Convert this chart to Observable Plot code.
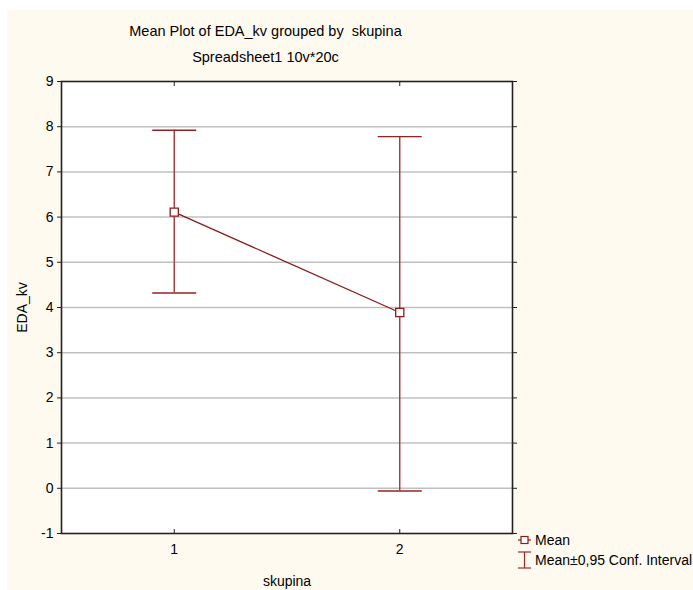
<!DOCTYPE html>
<html><head><meta charset="utf-8">
<script src="https://cdn.jsdelivr.net/npm/d3@7"></script>
<script src="https://cdn.jsdelivr.net/npm/@observablehq/plot@0.6"></script>
<style>
body{margin:0;background:#fff;}
#wrap{position:absolute;left:7px;top:10px;width:686px;height:580px;background:#fffaf0;font-family:"Liberation Sans",Arial,sans-serif;color:#000;overflow:hidden;}
.t{position:absolute;left:0;width:517px;text-align:center;font-size:14.5px;line-height:17px;}
.leg{position:absolute;left:528px;font-size:14px;line-height:16px;white-space:nowrap;}
.ico{position:absolute;left:511px;}
#chart{position:absolute;left:0;top:0;}
#chart svg text{font-size:14px;font-family:"Liberation Sans",Arial,sans-serif;}
</style></head><body>
<div id="wrap">
  <div class="t" style="top:13px">Mean Plot of EDA_kv grouped by&nbsp; skupina</div>
  <div class="t" style="top:39px">Spreadsheet1 10v*20c</div>
  <div id="chart"></div>
  <svg class="ico" style="top:523px" width="13" height="14"><line x1="0" y1="7" x2="13" y2="7" stroke="#8b1c1c" stroke-width="1.2"/><rect x="3" y="3.5" width="7" height="7" fill="#fff" stroke="#8b1c1c" stroke-width="1.2"/></svg>
  <div class="leg" style="top:522px">Mean</div>
  <svg class="ico" style="top:541px" width="13" height="18"><line x1="0" y1="1" x2="13" y2="1" stroke="#9c2a2a" stroke-width="1.2"/><line x1="6.5" y1="1" x2="6.5" y2="17" stroke="#9c2a2a" stroke-width="1.2"/><line x1="0" y1="17" x2="13" y2="17" stroke="#9c2a2a" stroke-width="1.2"/></svg>
  <div class="leg" style="top:542px">Mean±0,95 Conf. Interval</div>
</div>
<script>
const groups = [1, 2];
const means = [6.11, 3.89];
const upper = [7.92, 7.78];
const lower = [4.32, -0.06];
const yTicks = [-1, 0, 1, 2, 3, 4, 5, 6, 7, 8, 9];
const gridLines = [0, 1, 2, 3, 4, 5, 6, 7, 8];
const xTicks = [1, 2];

const data = groups.map((g, i) => ({g, mean: means[i], hi: upper[i], lo: lower[i]}));

const capSymbol = {draw(ctx) { ctx.moveTo(-22, 0); ctx.lineTo(22, 0); }};
const ciColor = "#a33636";
const capColor = "#952222";
const lineColor = "#8b1c1c";
const fmt = d => String(d);

const chart = Plot.plot({
  width: 686, height: 580,
  marginLeft: 54, marginRight: 181, marginTop: 71, marginBottom: 57,
  style: {background: "transparent", fontFamily: "'Liberation Sans', Arial, sans-serif", fontSize: "14px", color: "#000"},
  x: {domain: [0.5, 2.5], ticks: xTicks},
  y: {domain: [-1, 9], ticks: yTicks},
  marks: [
    Plot.frame({fill: "white", stroke: null}),
    Plot.ruleY(gridLines, {stroke: "#c0c0c0", strokeWidth: 1.5}),
    Plot.axisY({ticks: yTicks, tickSize: 4, tickPadding: 4, tickFormat: fmt, stroke: "#222", label: "EDA_kv", labelAnchor: "center", labelArrow: "none", labelOffset: 44}),
    Plot.axisY({anchor: "right", ticks: yTicks, tickSize: 4, tickFormat: () => "", stroke: "#222", label: null}),
    Plot.axisX({ticks: xTicks, tickSize: -4, tickPadding: 15, tickFormat: fmt, stroke: "#222", label: "skupina", labelAnchor: "center", labelArrow: "none", labelOffset: 52}),
    Plot.axisX({anchor: "top", ticks: xTicks, tickSize: -4, tickFormat: () => "", stroke: "#222", label: null}),
    Plot.frame({stroke: "#222", strokeWidth: 1.6}),
    Plot.ruleX(data, {x: "g", y1: "lo", y2: "hi", stroke: ciColor, strokeWidth: 1.4}),
    Plot.dot(data, {x: "g", y: "hi", symbol: capSymbol, stroke: capColor, strokeWidth: 1.4, r: 4}),
    Plot.dot(data, {x: "g", y: "lo", symbol: capSymbol, stroke: capColor, strokeWidth: 1.4, r: 4}),
    Plot.line(data, {x: "g", y: "mean", stroke: lineColor, strokeWidth: 1.3}),
    Plot.dot(data, {x: "g", y: "mean", symbol: "square", r: 4.6, fill: "white", stroke: lineColor, strokeWidth: 1.3})
  ]
});
document.getElementById("chart").appendChild(chart);
</script>
</body></html>
